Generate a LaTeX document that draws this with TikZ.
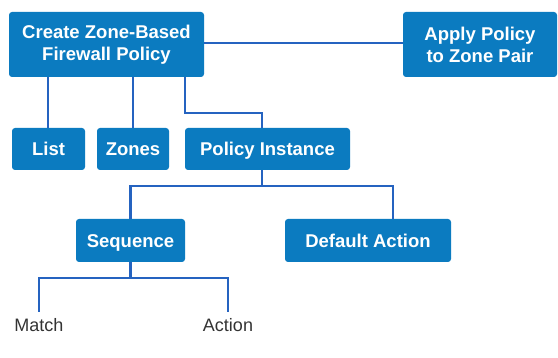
\documentclass[tikz,border=0pt]{standalone}
\usepackage{fontspec}
\setmainfont{Liberation Sans}
\begin{document}
\begin{tikzpicture}[x=1pt,y=-1pt,
  box/.style={draw=none,fill=boxblue,rounded corners=3pt,text=white,
    font=\bfseries\fontsize{18.5}{22}\selectfont,align=center,inner sep=0pt},
  onebox/.style={box,text height=13.3pt,text depth=0pt},
  link/.style={draw=lineblue,line width=2.2pt},
  leaf/.style={text=leafgray,font=\fontsize{18}{21}\selectfont,inner sep=0pt}]
\definecolor{boxblue}{HTML}{0B7BC0}
\definecolor{lineblue}{HTML}{2563C0}
\definecolor{leafgray}{HTML}{333333}
\useasboundingbox (0,0) rectangle (558,358);
% boxes
\node[box,minimum width=195pt,minimum height=65pt] (create) at (106.5,44.5) {Create Zone-Based\\Firewall Policy};
\node[box,minimum width=154pt,minimum height=65pt] (apply) at (480,44.5) {Apply Policy\\to Zone Pair};
\node[onebox,minimum width=73pt,minimum height=42pt] (list) at (48.5,149) {List};
\node[onebox,minimum width=72pt,minimum height=42pt] (zones) at (133,149) {Zones};
\node[onebox,minimum width=165pt,minimum height=42pt] (inst) at (267.5,149) {Policy Instance};
\node[onebox,minimum width=109pt,minimum height=43pt] (seq) at (130.5,240.5) {Sequence};
\node[onebox,minimum width=166pt,minimum height=43pt] (def) at (368,240.5) {Default Action};
\node[leaf] (match) at (39,325) {Match};
\node[leaf] (action) at (228,325) {Action};
% connectors
\draw[link] (create.east |- 0,43) -- (apply.west |- 0,43);
\draw[link] (create.south -| 48,0) -- (list.north -| 48,0);
\draw[link] (create.south -| 133,0) -- (zones.north -| 133,0);
\draw[link] (create.south -| 185,0) -- (185,113) -- (262,113) -- (inst.north -| 262,0);
\draw[link] (inst.south -| 262,0) -- (262,186);
\draw[link] (seq.north) -- (130.5,186) -- (393,186) -- (def.north -| 393,0);
\draw[link] (seq.south) -- (130.5,278);
\draw[link] (match.north |- 0,312) -- (39,278) -- (228,278) -- (action.north |- 0,312);
\end{tikzpicture}
\end{document}
